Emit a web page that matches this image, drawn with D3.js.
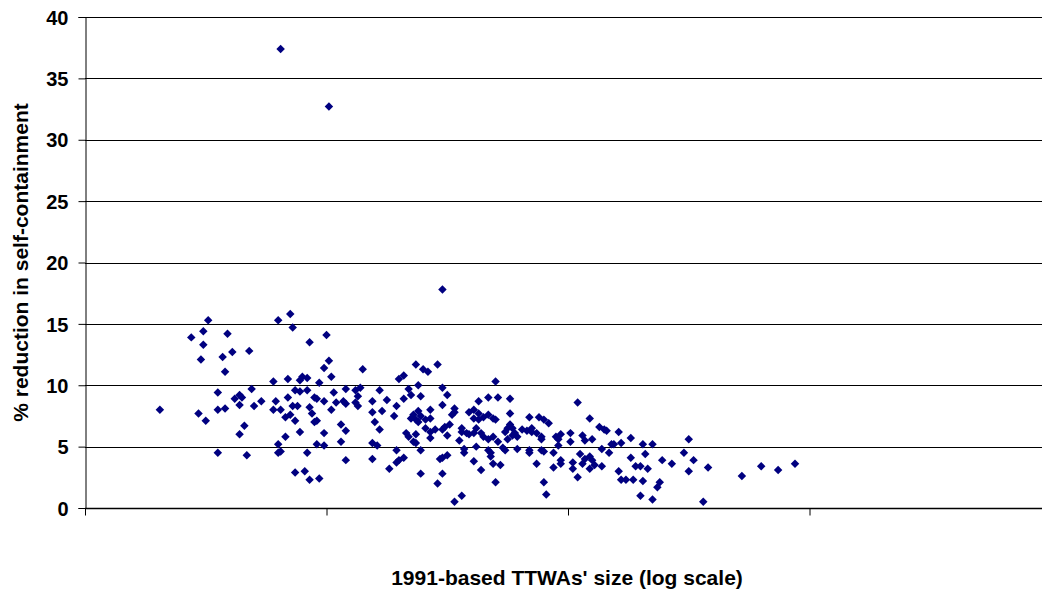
<!DOCTYPE html>
<html>
<head>
<meta charset="utf-8">
<script src="https://cdn.jsdelivr.net/npm/d3@7"></script>
<style>
  html, body { margin: 0; padding: 0; background: #fff; }
  svg { display: block; }
  text { font-family: Arial, "Liberation Sans", sans-serif; font-weight: bold; fill: #000; }
</style>
</head>
<body>
<svg id="chart" width="1042" height="589"></svg>
<script>
// log10 of TTWA size (x) and % reduction in self-containment (y)
const sizeLog10 = [
  3.81,4.01,4.48,
  3.51,3.49,3.44,3.59,3.49,3.61,3.68,3.57,3.48,3.58,3.55,3.69,3.64,3.62,3.65,3.64,3.73,3.70,3.31,3.47,3.55,3.58,3.50,3.66,3.64,3.55,3.67,
  3.85,3.80,3.86,4.00,3.93,4.01,3.99,4.15,4.02,3.78,3.84,3.90,3.89,3.92,3.97,3.87,3.89,3.92,4.03,4.08,4.12,4.14,4.13,4.22,3.84,3.95,3.96,3.79,3.99,4.04,4.07,4.08,4.12,4.13,4.19,3.78,3.81,3.86,3.88,3.93,3.94,4.02,4.19,4.23,3.83,3.85,3.87,3.95,3.96,4.06,4.20,4.22,3.89,4.08,3.99,3.83,3.80,3.96,3.99,4.06,4.19,4.21,3.80,3.81,3.92,4.08,4.19,3.87,3.91,3.93,3.97,
  4.37,4.46,4.40,4.42,4.30,4.32,4.70,4.38,4.34,4.35,4.48,4.50,4.39,4.25,4.32,4.29,4.63,4.67,4.71,4.48,4.28,4.38,4.36,4.35,4.37,4.39,4.38,4.43,4.43,4.41,4.52,4.53,4.53,4.59,4.61,4.63,4.61,4.63,4.65,4.67,4.69,4.70,4.41,4.43,4.43,4.45,4.48,4.49,4.51,4.50,4.33,4.34,4.37,4.36,4.37,4.56,4.56,4.58,4.59,4.61,4.62,4.64,4.65,4.67,4.69,4.55,4.62,4.71,4.29,4.39,4.57,4.57,4.67,4.68,4.68,4.69,4.32,4.30,4.29,4.50,4.48,4.47,4.61,4.26,4.64,4.39,4.48,4.46,4.70,4.53,4.56,
  4.76,5.04,4.76,4.84,4.88,4.90,4.92,5.09,5.13,5.15,5.16,4.76,4.75,4.77,4.78,4.77,4.75,4.79,4.74,4.81,4.83,4.85,4.85,4.87,4.89,4.89,4.95,4.96,4.97,5.01,5.01,5.06,5.07,5.10,4.73,4.74,4.79,4.84,4.84,4.89,4.90,4.94,4.96,5.14,5.18,5.19,5.05,5.02,5.02,5.06,5.07,5.09,5.10,5.09,5.11,5.14,5.17,4.97,4.97,4.87,4.94,5.04,4.72,4.90,4.91,
  5.21,5.26,5.50,5.22,5.31,5.35,5.32,5.26,5.39,5.43,5.48,5.52,5.28,5.30,5.33,5.21,5.50,5.58,5.22,5.24,5.27,5.31,5.38,5.37,5.30,5.35,5.56,5.72,5.80,5.87,5.94
];
const reduction = [
  37.4,32.7,17.8,
  15.3,14.4,13.9,14.2,13.3,12.7,12.8,12.3,12.1,11.1,9.4,9.7,9.2,8.9,9.0,8.4,8.7,8.3,8.0,7.7,8.0,8.1,7.1,6.7,6.0,4.5,4.3,
  15.8,15.3,14.7,14.1,13.5,12.0,11.4,11.3,10.7,10.3,10.5,10.7,10.4,10.6,10.2,9.6,9.5,9.6,9.4,9.7,9.6,9.8,9.1,9.6,9.0,9.0,8.9,8.7,8.7,8.6,8.7,8.5,8.6,8.3,8.7,8.0,8.0,8.3,8.3,8.2,7.7,8.0,7.8,7.9,7.4,7.6,7.1,7.0,7.1,6.8,7.0,6.4,6.2,6.3,6.1,5.8,5.2,5.2,5.1,5.4,5.3,5.1,4.5,4.6,4.5,3.9,4.0,2.9,3.0,2.3,2.4,
  11.7,11.7,11.3,11.1,10.5,10.8,10.3,10.0,9.7,9.2,9.8,9.2,9.1,8.8,8.9,8.3,8.7,9.0,9.0,8.4,7.5,7.9,7.6,7.3,7.2,7.5,7.0,8.0,7.3,7.2,7.6,8.1,7.8,7.8,8.0,7.7,7.3,7.2,7.4,7.6,7.3,7.2,6.5,6.2,5.7,6.4,6.4,6.6,6.8,5.9,6.1,5.8,6.0,5.4,5.3,6.5,6.2,6.1,6.0,6.1,6.5,6.1,5.8,5.6,5.8,5.5,5.0,5.4,4.7,4.7,4.8,4.5,4.7,4.5,4.2,3.6,4.1,3.9,3.7,4.3,4.1,4.0,3.8,3.2,3.1,2.8,2.8,2.0,2.1,0.5,1.0,
  8.9,8.6,7.7,7.4,7.4,7.2,6.9,7.3,6.6,6.4,6.3,6.8,6.5,6.5,6.1,5.9,5.6,5.8,6.2,6.4,6.3,6.5,6.2,6.1,5.8,5.6,5.8,5.6,6.0,6.1,5.4,5.9,5.5,5.6,4.9,4.7,4.8,4.7,4.5,4.7,4.6,4.5,5.1,4.8,5.2,5.2,4.4,3.7,3.2,3.6,4.0,4.2,3.9,3.2,3.5,3.4,4.5,3.9,3.6,3.6,3.3,2.5,3.5,2.1,1.1,
  6.2,5.7,5.6,5.3,5.2,5.2,4.4,4.1,3.9,3.6,4.5,3.9,3.4,3.4,3.2,3.0,3.0,3.3,2.3,2.3,2.3,2.2,2.1,1.7,1.0,0.7,0.5,2.6,3.4,3.1,3.6
];
const yTickValues = [0, 5, 10, 15, 20, 25, 30, 35, 40];
const xTickValues = [1e3, 1e4, 1e5, 1e6, 1e7];
const xTitle = "1991-based TTWAs' size (log scale)";
const yTitle = "% reduction in self-containment";

const svg = d3.select("#chart");
const mLeft = 85, mRight = 1051, mTop = 17, mBottom = 508;

const x = d3.scaleLog().domain([1e3, 1e7]).range([mLeft, mRight]);
const y = d3.scaleLinear().domain([0, 40]).range([mBottom, mTop]);

// gridlines
svg.append("g")
  .selectAll("line")
  .data(yTickValues.filter(v => v > 0))
  .join("line")
  .attr("x1", mLeft).attr("x2", 1042)
  .attr("y1", d => Math.round(y(d)) + 0.5).attr("y2", d => Math.round(y(d)) + 0.5)
  .attr("stroke", "#000").attr("stroke-width", 1);

// y axis
const yAxis = svg.append("g")
  .attr("transform", `translate(${mLeft + 0.5},0)`)
  .call(d3.axisLeft(y).tickValues(yTickValues).tickSize(7).tickPadding(10).tickFormat(d3.format("d")))
  .attr("font-size", 20)
  .attr("font-family", "Arial, 'Liberation Sans', sans-serif")
  .attr("font-weight", "bold");
yAxis.select(".domain").attr("stroke", "#000");
yAxis.selectAll(".tick line").attr("stroke", "#000");
yAxis.selectAll("text").attr("font-size", 20).attr("dy", "0.36em");

// x axis
const xAxis = svg.append("g")
  .attr("transform", `translate(0,${mBottom + 0.5})`)
  .call(d3.axisBottom(x).tickValues(xTickValues).tickSize(7).tickFormat(() => ""));
xAxis.select(".domain").attr("stroke", "#000").attr("stroke-width", 1.5).attr("d", `M${mLeft},0H1042`);
xAxis.selectAll(".tick line").attr("stroke", "#000");

// points
const pts = d3.range(Math.min(sizeLog10.length, reduction.length)).map(i => ({ s: Math.pow(10, sizeLog10[i]), r: reduction[i] }));
const diamond = d3.symbol().type(d3.symbolSquare).size(36)();
svg.append("g")
  .selectAll("path")
  .data(pts)
  .join("path")
  .attr("d", diamond)
  .attr("transform", d => `translate(${x(d.s)},${y(d.r)}) rotate(45)`)
  .attr("fill", "#000080");

// titles
svg.append("text")
  .attr("transform", `translate(28,${(mTop + mBottom) / 2}) rotate(-90)`)
  .attr("text-anchor", "middle")
  .attr("font-size", 21)
  .text(yTitle);

svg.append("text")
  .attr("x", 567).attr("y", 585)
  .attr("text-anchor", "middle")
  .attr("font-size", 21)
  .text(xTitle);
</script>
</body>
</html>
